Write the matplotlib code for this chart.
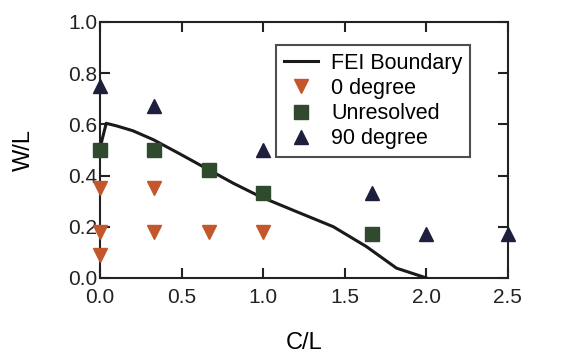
import matplotlib.pyplot as plt

plt.rcParams['font.family'] = ['Liberation Sans', 'DejaVu Sans']

# FEI boundary curve
bx = [0.0, 0.037, 0.1, 0.2, 0.326, 0.49, 0.65, 0.816, 0.98, 1.2, 1.43, 1.634, 1.818, 2.0]
by = [0.51, 0.604, 0.594, 0.575, 0.54, 0.484, 0.428, 0.37, 0.318, 0.26, 0.2, 0.122, 0.038, 0.0]

# 0 degree
x0 = [0.0, 0.0, 0.0, 0.333, 0.333, 0.667, 1.0]
y0 = [0.35, 0.18, 0.09, 0.35, 0.18, 0.18, 0.18]

# unresolved
xu = [0.0, 0.333, 0.667, 1.0, 1.667]
yu = [0.5, 0.5, 0.42, 0.33, 0.17]

# 90 degree
x90 = [0.0, 0.333, 1.0, 1.667, 2.0, 2.5]
y90 = [0.75, 0.67, 0.5, 0.33, 0.17, 0.17]

fig = plt.figure(figsize=(5.66, 3.54), dpi=100)
ax = fig.add_axes([0.177, 0.215, 0.72, 0.723])

ax.plot(bx, by, color='#1a1a1a', lw=2.2, label='FEI Boundary', zorder=3)
ax.plot(x0, y0, 'v', color='#c4562c', ms=10, ls='none', label='0 degree', clip_on=False, zorder=4)
ax.plot(xu, yu, 's', color='#2f4a2c', ms=10, ls='none', label='Unresolved', clip_on=False, zorder=4)
ax.plot(x90, y90, '^', color='#1e1f3c', ms=10, ls='none', label='90 degree', clip_on=False, zorder=4)

ax.set_xlim(0, 2.5)
ax.set_ylim(0, 1.0)
ax.set_xticks([0, 0.5, 1.0, 1.5, 2.0, 2.5])
ax.set_yticks([0, 0.2, 0.4, 0.6, 0.8, 1.0])
ax.set_xticklabels(['0.0', '0.5', '1.0', '1.5', '2.0', '2.5'])
ax.set_yticklabels(['0.0', '0.2', '0.4', '0.6', '0.8', '1.0'])
ax.tick_params(direction='in', length=7, width=1.5, top=True, right=True, labelsize=15, colors='#222222')
ax.tick_params(axis='x', pad=7)
ax.tick_params(axis='y', pad=2)
for s in ax.spines.values():
    s.set_linewidth(1.5)
    s.set_color('#222222')

ax.set_xlabel('C/L', fontsize=17, labelpad=18)
ax.set_ylabel('W/L', fontsize=17, labelpad=24)

leg = ax.legend(loc='upper right', bbox_to_anchor=(0.907, 0.91), fontsize=15.5, frameon=True,
                fancybox=False, edgecolor='#222222', handlelength=1.6, handletextpad=0.6,
                labelspacing=0.2, borderpad=0.35, borderaxespad=0)
leg.get_frame().set_linewidth(1.5)

fig.savefig('out.png', dpi=100)
